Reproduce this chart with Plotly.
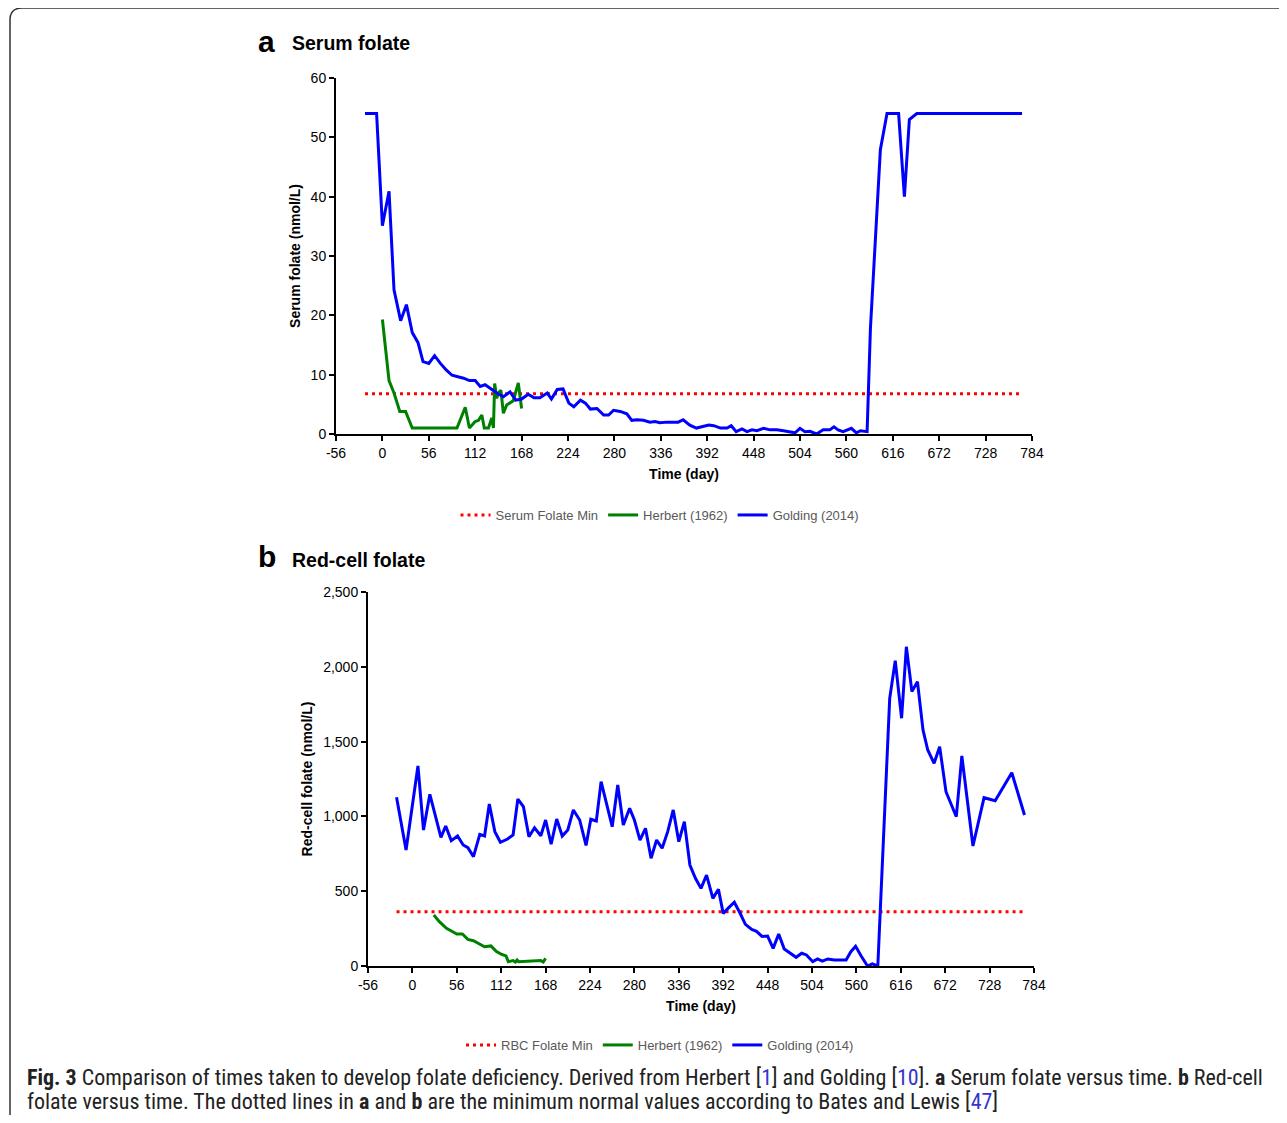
import plotly.graph_objects as go

# ---------------- data ----------------
x_ticks = [-56, 0, 56, 112, 168, 224, 280, 336, 392, 448, 504, 560, 616, 672, 728, 784]
x_tick_labels = ["-56", "0", "56", "112", "168", "224", "280", "336", "392", "448", "504",
                 "560", "616", "672", "728", "784"]

serum_min_days = [-21, 772]
serum_min_value = [6.8, 6.8]

herbert_serum_days = [0, 8, 14, 21, 28, 36, 90, 100, 105, 112, 116, 120, 123, 128, 132, 134,
                      135.5, 138, 140, 143, 146, 150, 158, 164, 168]
herbert_serum_vals = [19.3, 9.0, 6.9, 3.8, 3.8, 1.0, 1.0, 4.5, 1.0, 2.1, 2.3, 3.2, 1.0, 1.0, 2.7, 1.0,
                      8.5, 6.0, 6.9, 7.4, 3.5, 4.9, 5.6, 8.6, 4.3]

golding_serum_days = [-21, -7, 0, 8, 14, 22, 29, 36, 43, 49,
                      56, 63, 70, 77, 84, 92, 98, 105, 112, 118,
                      124, 130, 138, 146, 154, 161, 168, 176, 183, 190,
                      199, 204, 211, 218, 225, 231, 239, 245, 251, 259,
                      267, 273, 279, 287, 295, 301, 307, 315, 323, 329,
                      335, 343, 351, 357, 363, 371, 379, 386, 394, 400,
                      408, 416, 421, 427, 434, 440, 446, 452, 460, 468,
                      476, 484, 492, 498, 504, 510, 516, 524, 532, 540,
                      545, 550, 556, 566, 572, 577, 585, 589, 601, 609,
                      623, 630, 636, 645, 772]
golding_serum_vals = [54, 54, 35.1, 40.9, 24.3, 19.1, 21.8, 17.1, 15.4, 12.2,
                      11.9, 13.2, 11.9, 10.8, 9.9, 9.6, 9.4, 9.0, 9.0, 8.0,
                      8.3, 7.7, 6.9, 6.3, 7.1, 5.7, 5.9, 6.7, 6.1, 6.1,
                      6.9, 5.9, 7.5, 7.6, 5.2, 4.6, 5.7, 5.2, 4.2, 4.3,
                      3.2, 3.2, 4.0, 3.8, 3.4, 2.3, 2.4, 2.3, 2.0, 2.1,
                      1.9, 2.0, 2.0, 2.0, 2.4, 1.5, 1.0, 1.2, 1.5, 1.4,
                      1.0, 1.0, 1.4, 0.4, 0.85, 0.4, 0.7, 0.55, 0.95, 0.7,
                      0.7, 0.55, 0.4, 0.2, 0.95, 0.4, 0.45, 0.0, 0.7, 0.7,
                      1.2, 0.7, 0.4, 0.95, 0.2, 0.55, 0.4, 17.8, 47.9, 54,
                      54, 40, 53, 54, 54]

rbc_min_days = [-20, 772]
rbc_min_value = [363, 363]

herbert_rbc_days = [27, 34, 43, 49, 56, 63, 70, 77, 85, 91, 99, 106, 112, 118, 121, 127, 130, 132,
                    134, 162, 165, 168]
herbert_rbc_vals = [341, 296, 252, 234, 214, 214, 178, 169, 147, 129, 134, 96, 80, 67, 29, 36, 27, 40,
                    29, 36, 27, 51]

golding_rbc_days = [-20, -8, 7, 14, 22, 29, 36, 42, 49, 57,
                    64, 70, 77, 85, 91, 97, 104, 111, 120, 127,
                    133, 140, 147, 154, 162, 168, 175, 182, 189, 196,
                    203, 211, 219, 225, 232, 238, 252, 259, 266, 274,
                    280, 287, 294, 301, 308, 315, 322, 329, 336, 343,
                    350, 357, 364, 371, 379, 386, 392, 399, 406, 413,
                    420, 428, 434, 441, 448, 455, 462, 469, 475, 484,
                    491, 497, 505, 511, 517, 524, 532, 547, 553, 559,
                    566, 574, 580, 587, 602, 609, 617, 623, 630, 637,
                    644, 650, 658, 665, 673, 686, 693, 707, 721, 735,
                    756, 772]
golding_rbc_vals = [1128, 775, 1337, 909, 1148, 998, 860, 936, 838, 869,
                    809, 791, 731, 880, 869, 1083, 898, 827, 849, 876,
                    1116, 1065, 864, 924, 871, 976, 815, 982, 869, 909,
                    1043, 976, 806, 981, 969, 1232, 931, 1210, 942, 1054,
                    976, 842, 920, 720, 842, 787, 898, 1043, 831, 965,
                    675, 586, 519, 608, 452, 513, 352, 390, 426, 356,
                    278, 245, 232, 198, 200, 118, 214, 114, 92, 58,
                    85, 74, 29, 47, 33, 47, 40, 40, 96, 132,
                    67, 0, 14, 0, 1789, 2041, 1656, 2134, 1834, 1901,
                    1578, 1444, 1355, 1466, 1165, 998, 1404, 802, 1125, 1105,
                    1292, 1009]

# ---------------- layout helpers ----------------
# page body has an 8px margin, so the figure is drawn 8px in from the window edge
OFF = 8
W, H = 1287 - 2 * OFF, 1123 - 2 * OFF
def px(x):
    return (x - OFF) / W
def py(y):
    return 1 - (y - OFF) / H

FONT = "Liberation Sans, Arial, sans-serif"
BLUE = "#0000ff"
GREEN = "#008000"
RED = "#ff0000"

fig = go.Figure()

dot = "3px,4px"
# top panel
fig.add_trace(go.Scatter(x=serum_min_days, y=serum_min_value, mode="lines", name="Serum Folate Min",
                         line=dict(color=RED, width=3, dash=dot), xaxis="x", yaxis="y", legend="legend"))
fig.add_trace(go.Scatter(x=herbert_serum_days, y=herbert_serum_vals, mode="lines", name="Herbert (1962)",
                         line=dict(color=GREEN, width=3), xaxis="x", yaxis="y", legend="legend"))
fig.add_trace(go.Scatter(x=golding_serum_days, y=golding_serum_vals, mode="lines", name="Golding (2014)",
                         line=dict(color=BLUE, width=3), xaxis="x", yaxis="y", legend="legend"))
# bottom panel
fig.add_trace(go.Scatter(x=rbc_min_days, y=rbc_min_value, mode="lines", name="RBC Folate Min",
                         line=dict(color=RED, width=3, dash=dot), xaxis="x2", yaxis="y2", legend="legend2"))
fig.add_trace(go.Scatter(x=herbert_rbc_days, y=herbert_rbc_vals, mode="lines", name="Herbert (1962)",
                         line=dict(color=GREEN, width=3), xaxis="x2", yaxis="y2", legend="legend2"))
fig.add_trace(go.Scatter(x=golding_rbc_days, y=golding_rbc_vals, mode="lines", name="Golding (2014)",
                         line=dict(color=BLUE, width=3), xaxis="x2", yaxis="y2", legend="legend2"))

axis_common = dict(showline=True, linecolor="black", linewidth=2, ticks="outside", ticklen=5,
                   tickwidth=1.5, tickcolor="black", showgrid=False, zeroline=False, automargin=False,
                   tickfont=dict(family=FONT, size=14, color="black"))

fig.update_layout(
    width=W, height=H,
    margin=dict(l=0, r=0, t=0, b=0, pad=0, autoexpand=False),
    paper_bgcolor="white", plot_bgcolor="white",
    font=dict(family=FONT, color="black"),
    xaxis=dict(domain=[px(336), px(1032)], range=[-56, 784], tickvals=x_ticks, ticktext=x_tick_labels,
               anchor="y", title=dict(text="<b>Time (day)</b>", font=dict(size=14), standoff=9), **axis_common),
    yaxis=dict(domain=[py(434), py(78)], range=[0, 60], dtick=10, anchor="x",
               title=dict(text="<b>Serum folate (nmol/L)</b>", font=dict(size=14), standoff=7), **axis_common),
    xaxis2=dict(domain=[px(368), px(1034)], range=[-56, 784], tickvals=x_ticks, ticktext=x_tick_labels,
                anchor="y2", title=dict(text="<b>Time (day)</b>", font=dict(size=14), standoff=9), **axis_common),
    yaxis2=dict(domain=[py(966), py(592)], range=[0, 2500], dtick=500, tickformat=",", anchor="x2",
                title=dict(text="<b>Red-cell folate (nmol/L)</b>", font=dict(size=14), standoff=7), **axis_common),
    legend=dict(orientation="h", x=px(660), y=py(515), xanchor="center", yanchor="middle",
                font=dict(family=FONT, size=13, color="#595959"), itemwidth=30, bgcolor="rgba(0,0,0,0)"),
    legend2=dict(orientation="h", x=px(660), y=py(1045), xanchor="center", yanchor="middle",
                 font=dict(family=FONT, size=13, color="#595959"), itemwidth=30, bgcolor="rgba(0,0,0,0)"),
    showlegend=True,
)

annotations = [
    dict(text="<b>a</b>", x=px(256), y=py(42), xanchor="left", yanchor="middle", font=dict(size=30)),
    dict(text="<b>Serum folate</b>", x=px(290), y=py(43), xanchor="left", yanchor="middle", font=dict(size=19.5)),
    dict(text="<b>b</b>", x=px(256), y=py(556), xanchor="left", yanchor="middle", font=dict(size=30)),
    dict(text="<b>Red-cell folate</b>", x=px(290), y=py(560), xanchor="left", yanchor="middle", font=dict(size=19.5)),
]
REF = "#3434d0"
CAP_FONT = "Liberation Sans Narrow, Roboto Condensed, Liberation Sans, sans-serif"
cap1 = ("<b>Fig. 3</b> Comparison of times taken to develop folate deficiency. Derived from Herbert "
        f"[<span style='color:{REF}'>1</span>] and Golding [<span style='color:{REF}'>10</span>]. "
        "<b>a</b> Serum folate versus time. <b>b</b> Red-cell")
cap2 = ("folate versus time. The dotted lines in <b>a</b> and <b>b</b> are the minimum normal values "
        f"according to Bates and Lewis [<span style='color:{REF}'>47</span>]")
annotations.append(dict(text=cap1, x=px(25), y=py(1077), xanchor="left", yanchor="middle",
                        font=dict(family=CAP_FONT, size=22, color="#222222")))
annotations.append(dict(text=cap2, x=px(25), y=py(1101), xanchor="left", yanchor="middle",
                        font=dict(family=CAP_FONT, size=22, color="#222222")))
for a in annotations:
    a.update(xref="paper", yref="paper", showarrow=False)
fig.update_layout(annotations=annotations)

# rounded figure border (top + left)
path = (f"M {px(1287)},{py(8)} L {px(22)},{py(8)} Q {px(10)},{py(8)} {px(10)},{py(20)} "
        f"L {px(10)},{py(1123)}")
fig.add_shape(type="path", path=path, xref="paper", yref="paper",
              line=dict(color="#333333", width=1.5))

fig.write_html("out.html")
